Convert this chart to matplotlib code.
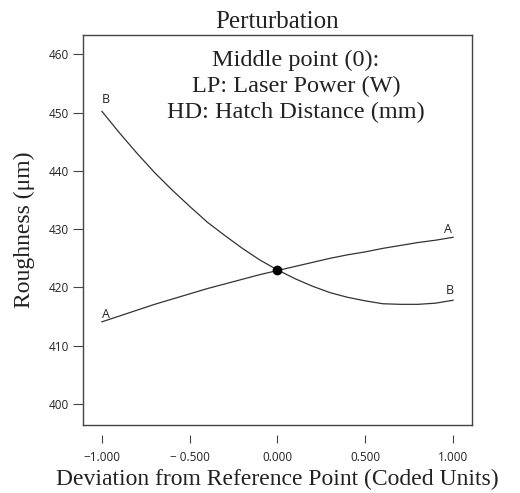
import matplotlib
matplotlib.use("Agg")
import matplotlib.pyplot as plt

# deviation from the reference point, coded units
dev = [-1.0, -0.9, -0.8, -0.7, -0.6, -0.5, -0.4, -0.3, -0.2, -0.1, 0.0,
       0.1, 0.2, 0.3, 0.4, 0.5, 0.6, 0.7, 0.8, 0.9, 1.0]

# roughness response (um) for each factor
rough_a = [414.1, 415.1, 416.1, 417.1, 418.0, 418.9, 419.8, 420.6, 421.4, 422.2, 422.9,
           423.6, 424.3, 425.0, 425.6, 426.1, 426.7, 427.2, 427.7, 428.1, 428.6]
rough_b = [450.2, 446.5, 443.0, 439.7, 436.7, 433.9, 431.2, 428.9, 426.7, 424.7, 423.0,
           421.5, 420.2, 419.1, 418.3, 417.7, 417.2, 417.1, 417.1, 417.3, 417.8]

ref_x = 0.0
ref_y = 423.0

x_ticks = [-1.0, -0.5, 0.0, 0.5, 1.0]
x_tick_labels = ["\u22121.000", "\u2212 0.500", "0.000", "0.500", "1.000"]
y_ticks = [400, 410, 420, 430, 440, 450, 460]

serif = "Liberation Serif"
sans = "Open Sans"
line_col = "#333333"

fig = plt.figure(figsize=(5.2, 4.93), dpi=100)
ax = fig.add_axes([0.1596, 0.1379, 0.7481, 0.7911])

ax.plot(dev, rough_a, color=line_col, lw=0.9)
ax.plot(dev, rough_b, color=line_col, lw=0.9)
ax.plot([ref_x], [ref_y], "o", color="black", ms=6, zorder=5)

# curve end labels
lab_kw = dict(fontsize=9, family=sans, ha="center", va="center", color="#222222")
ax.text(dev[0] + 0.02, rough_a[0] + 1.3, "A", **lab_kw)
ax.text(dev[-1] - 0.03, rough_a[-1] + 1.3, "A", **lab_kw)
ax.text(dev[0] + 0.02, rough_b[0] + 2.0, "B", **lab_kw)
ax.text(dev[-1] - 0.02, rough_b[-1] + 1.7, "B", **lab_kw)

ax.text(0.548, 0.869, "Middle point (0):\nLP: Laser Power (W)\nHD: Hatch Distance (mm)",
        transform=ax.transAxes, ha="center", va="center", fontsize=17.5,
        family=serif, linespacing=1.3, color="#222222")

ax.set_xlim(-1.108, 1.108)
ax.set_ylim(396.4, 463.3)

ax.set_yticks(y_ticks)
ax.set_xticks(x_ticks)
ax.set_xticklabels(x_tick_labels)

for s in ax.spines.values():
    s.set_color("#444444")
    s.set_linewidth(1.0)

# x ticks sit detached below the frame
ax.spines["bottom"].set_position(("outward", 7))
ax.spines["bottom"].set_visible(False)
ax.plot([0, 1], [0, 0], transform=ax.transAxes, color="#444444", lw=1.0, clip_on=False)

ax.tick_params(axis="y", direction="out", length=7, width=0.8, pad=3,
               labelsize=8.5, colors="#444444", labelcolor="#222222")
ax.tick_params(axis="x", direction="out", length=6, width=0.8, pad=6,
               labelsize=8.5, colors="#444444", labelcolor="#222222")
for lab in ax.get_xticklabels() + ax.get_yticklabels():
    lab.set_family(sans)

ax.set_title("Perturbation", family=serif, fontsize=18, pad=5, color="#222222")
ax.set_xlabel("Deviation from Reference Point (Coded Units)", family=serif,
              fontsize=17, labelpad=3, color="#222222")
ax.set_ylabel("Roughness (\u03bcm)", family=serif, fontsize=17, labelpad=10, color="#222222")

fig.savefig("out.png", dpi=100)
